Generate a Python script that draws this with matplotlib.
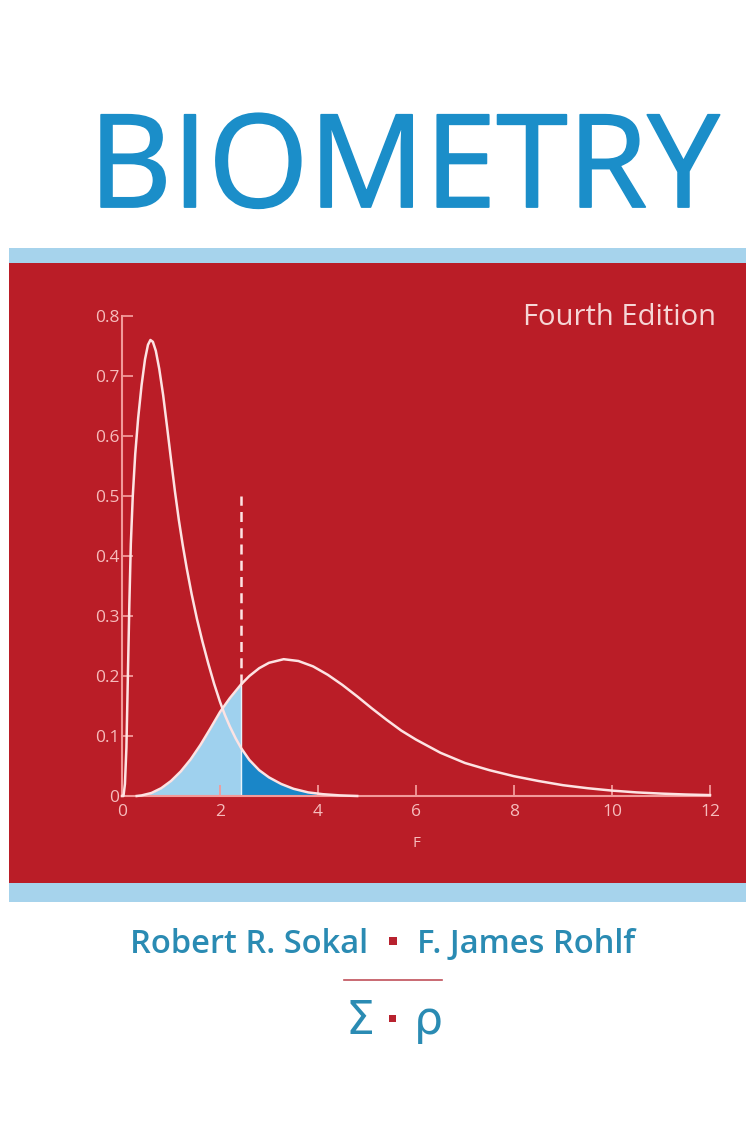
import numpy as np
import matplotlib
matplotlib.use("Agg")
import matplotlib.pyplot as plt
from matplotlib.patches import Rectangle
from matplotlib.lines import Line2D
import matplotlib.patheffects as pe

# ---------------- data ----------------
f1_x = [0.0, 0.03, 0.06, 0.09, 0.12, 0.15, 0.18, 0.22, 0.27, 0.33, 0.40, 0.47,
        0.53, 0.58, 0.63, 0.69, 0.76, 0.84, 0.92, 1.00, 1.08, 1.16, 1.24, 1.32,
        1.42, 1.53, 1.64, 1.76, 1.88, 2.00, 2.10, 2.20, 2.32, 2.43, 2.60, 2.80,
        3.00, 3.25, 3.50, 3.80, 4.10, 4.45, 4.80]
f1_y = [0.0, 0.0, 0.02, 0.08, 0.20, 0.32, 0.42, 0.50, 0.57, 0.63, 0.685, 0.728,
        0.752, 0.760, 0.757, 0.742, 0.712, 0.668, 0.615, 0.561, 0.508, 0.460,
        0.418, 0.380, 0.337, 0.295, 0.258, 0.221, 0.187, 0.157, 0.135, 0.116,
        0.096, 0.080, 0.060, 0.043, 0.031, 0.020, 0.012, 0.006, 0.003, 0.001, 0.0]

f2_x = [0.3, 0.4, 0.6, 0.8, 1.0, 1.2, 1.4, 1.6, 1.8, 2.0, 2.2, 2.43, 2.6, 2.8,
        3.0, 3.3, 3.6, 3.9, 4.2, 4.5, 4.8, 5.1, 5.4, 5.7, 6.0, 6.5, 7.0, 7.5,
        8.0, 8.5, 9.0, 9.5, 10.0, 10.5, 11.0, 11.5, 12.0]
f2_y = [0.0, 0.001, 0.005, 0.013, 0.025, 0.041, 0.061, 0.085, 0.112, 0.140,
        0.163, 0.186, 0.200, 0.213, 0.222, 0.228, 0.225, 0.216, 0.202, 0.185,
        0.166, 0.146, 0.127, 0.109, 0.094, 0.072, 0.055, 0.043, 0.033, 0.025,
        0.018, 0.013, 0.009, 0.006, 0.004, 0.0025, 0.0015]

f_crit = 2.43
crit_top = 0.5

x_ticks = [0, 2, 4, 6, 8, 10, 12]
x_ticklabels = ["0", "2", "4", "6", "8", "10", "12"]
y_ticks = [0, 0.1, 0.2, 0.3, 0.4, 0.5, 0.6, 0.7, 0.8]
y_ticklabels = ["0", "0.1", "0.2", "0.3", "0.4", "0.5", "0.6", "0.7", "0.8"]

title = "BIOMETRY"
edition = "Fourth Edition"
author1 = "Robert R. Sokal"
author2 = "F. James Rohlf"
logo_left = "Σ"
logo_right = "ρ"

# ---------------- style ----------------
W, H = 746, 1129
RED = "#ba1d27"
LBLUE = "#a6d3ec"
TITLE_BLUE = "#1b8ec9"
TEAL = "#2a8bb3"
AXIS_PINK = "#f29a9a"
CURVE = "#fde3e3"
LABEL_PINK = "#f6bcbc"
SHADE_L = "#9fd1ee"
SHADE_D = "#1a86c8"
BULLET = "#b8222f"

plt.rcParams["font.family"] = ["Open Sans", "DejaVu Sans"]

fig = plt.figure(figsize=(W / 100, H / 100), dpi=100)
fig.patch.set_facecolor("white")


def fy(py):
    return 1 - py / H


def fx(px):
    return px / W


def rect(x0, y0, x1, y1, color, z=-5):
    fig.patches.append(Rectangle((fx(x0), fy(y1)), fx(x1) - fx(x0), fy(y0) - fy(y1),
                                 transform=fig.transFigure, facecolor=color,
                                 edgecolor="none", zorder=z))


rect(9, 248, W, 263, LBLUE)
rect(9, 263, W, 883, RED)
rect(9, 883, W, 902, LBLUE)

# title
fig.text(fx(404), fy(207), title, ha="center", va="baseline", fontsize=93,
         color=TITLE_BLUE, fontweight="normal",
         path_effects=[pe.withStroke(linewidth=1.3, foreground=TITLE_BLUE)])
fig.text(fx(716), fy(325), edition, ha="right", va="baseline", fontsize=21,
         color="#f6d6d6")

# ---------------- axes ----------------
ax = fig.add_axes([fx(122), fy(796), fx(710) - fx(122), fy(316) - fy(796)])
ax.set_facecolor("none")
ax.set_zorder(2)
ax.set_xlim(0, 12)
ax.set_ylim(0, 0.8)

f1_x_a = np.array(f1_x); f1_y_a = np.array(f1_y)
f2_x_a = np.array(f2_x); f2_y_a = np.array(f2_y)

m2 = f2_x_a <= f_crit
ax.fill_between(f2_x_a[m2], 0, f2_y_a[m2], color=SHADE_L, lw=0, zorder=1)
m1 = f1_x_a >= f_crit
ax.fill_between(f1_x_a[m1], 0, f1_y_a[m1], color=SHADE_D, lw=0, zorder=1)

ax.plot(f1_x, f1_y, color=CURVE, lw=1.8, zorder=3, clip_on=False,
        solid_joinstyle="round")
ax.plot(f2_x, f2_y, color=CURVE, lw=1.8, zorder=3, clip_on=False,
        solid_joinstyle="round")

crit_low = f2_y[f2_x.index(f_crit)]
ax.plot([f_crit, f_crit], [0, crit_low], color="#e8f4fb", lw=1.0, zorder=2)
ax.plot([f_crit, f_crit], [crit_low, crit_top], color=CURVE, lw=1.8,
        dashes=(4, 2.5), zorder=2)

for s in ["top", "right"]:
    ax.spines[s].set_visible(False)
for s in ["left", "bottom"]:
    ax.spines[s].set_color(AXIS_PINK)
    ax.spines[s].set_linewidth(1.5)

ax.set_xticks(x_ticks)
ax.set_xticklabels(x_ticklabels)
ax.set_yticks(y_ticks)
ax.set_yticklabels(y_ticklabels)
ax.tick_params(axis="both", direction="in", length=8, width=1.3, colors=AXIS_PINK,
               labelcolor=LABEL_PINK, labelsize=12.5)
ax.tick_params(axis="x", pad=6)
ax.tick_params(axis="y", pad=2)
ax.set_xlabel("F", color=LABEL_PINK, fontsize=11, labelpad=11)

# ---------------- bottom texts ----------------
fig.text(fx(368), fy(953), author1, ha="right", va="baseline", fontsize=23.5,
         color=TEAL, fontweight="semibold")
fig.text(fx(417), fy(953), author2, ha="left", va="baseline", fontsize=23.5,
         color=TEAL, fontweight="semibold")
fig.patches.append(Rectangle((fx(389), fy(945)), fx(8), 8 / H,
                             transform=fig.transFigure, facecolor=BULLET,
                             edgecolor="none"))

fig.lines.append(Line2D([fx(344), fx(442)], [fy(980), fy(980)],
                        transform=fig.transFigure, color="#c0505a", lw=1.2))

fig.text(fx(360), fy(1034), logo_left, ha="center", va="baseline", fontsize=33,
         color=TEAL, family=["DejaVu Sans"])
fig.text(fx(428), fy(1034), logo_right, ha="center", va="baseline", fontsize=33,
         color=TEAL, family=["DejaVu Sans"])
fig.patches.append(Rectangle((fx(389), fy(1022)), fx(7), 7 / H,
                             transform=fig.transFigure, facecolor=BULLET,
                             edgecolor="none"))

fig.savefig("out.png", dpi=100, facecolor="white")
